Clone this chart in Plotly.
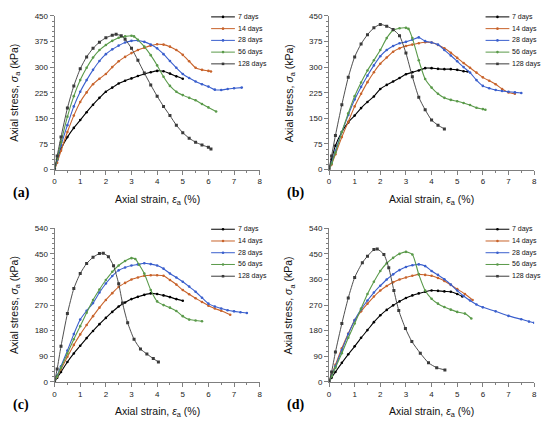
import plotly.graph_objects as go

# the page body has an 8 px margin, so the figure is drawn 8 px in from the corner
OFF = 8
W, H = 550 - OFF, 428 - OFF

SERIES = ["7 days", "14 days", "28 days", "56 days", "128 days"]
COLORS = ["#000000", "#C8632B", "#3A5FCD", "#5A9A4A", "#3A3A3A"]
SYMBOLS = ["circle", "circle", "circle", "circle", "square"]

# ---- panel (a) ----
A7_X = [0, 0.1, 0.25, 0.5, 0.75, 1, 1.25, 1.5, 1.75, 2, 2.25, 2.5, 2.75, 3, 3.25, 3.5, 3.75, 4, 4.25, 4.5, 4.75, 5]
A7_Y = [0, 30, 60, 95, 122, 145, 168, 190, 210, 228, 240, 252, 260, 267, 274, 280, 285, 289, 288, 281, 273, 266]
A14_X = [0, 0.1, 0.25, 0.5, 0.75, 1, 1.25, 1.5, 1.75, 2, 2.25, 2.5, 2.75, 3, 3.25, 3.5, 3.75, 4, 4.25, 4.5, 4.75, 5, 5.25, 5.5, 5.75, 6, 6.1]
A14_Y = [0, 20, 55, 110, 158, 198, 226, 250, 266, 280, 300, 317, 330, 341, 350, 357, 363, 367, 366, 360, 350, 336, 317, 298, 292, 289, 287]
A28_X = [0, 0.1, 0.25, 0.5, 0.75, 1, 1.25, 1.5, 1.75, 2, 2.25, 2.5, 2.75, 3, 3.25, 3.5, 3.75, 4, 4.25, 4.5, 4.75, 5, 5.25, 5.5, 5.75, 6, 6.25, 6.5, 6.75, 7, 7.3]
A28_Y = [0, 28, 70, 130, 185, 228, 262, 292, 318, 338, 352, 363, 372, 377, 378, 374, 366, 355, 338, 318, 298, 280, 268, 258, 250, 243, 234, 233, 236, 238, 240]
A56_X = [0, 0.1, 0.25, 0.5, 0.75, 1, 1.25, 1.5, 1.75, 2, 2.25, 2.5, 2.75, 3, 3.1, 3.25, 3.5, 3.75, 4, 4.25, 4.5, 4.75, 5, 5.25, 5.5, 5.75, 6, 6.3]
A56_Y = [0, 32, 80, 155, 215, 262, 298, 328, 350, 365, 377, 386, 390, 392, 390, 380, 360, 335, 305, 272, 245, 228, 218, 210, 203, 192, 182, 170]
A128_X = [0, 0.1, 0.25, 0.5, 0.75, 1, 1.25, 1.5, 1.75, 2, 2.25, 2.4, 2.6, 2.75, 3, 3.25, 3.5, 3.75, 4, 4.25, 4.5, 4.75, 5, 5.25, 5.5, 5.75, 6, 6.1]
A128_Y = [0, 40, 95, 180, 245, 295, 330, 355, 373, 386, 393, 396, 392, 382, 355, 320, 283, 248, 215, 185, 158, 130, 108, 92, 80, 72, 65, 60]

# ---- panel (b) ----
B7_X = [0, 0.1, 0.25, 0.5, 0.75, 1, 1.25, 1.5, 1.75, 2, 2.25, 2.5, 2.75, 3, 3.25, 3.5, 3.75, 4, 4.25, 4.5, 4.75, 5, 5.25, 5.4]
B7_Y = [0, 30, 70, 110, 138, 158, 180, 198, 214, 236, 248, 258, 268, 279, 285, 290, 297, 297, 295, 294, 294, 292, 288, 287]
B14_X = [0, 0.1, 0.25, 0.5, 0.75, 1, 1.25, 1.5, 1.75, 2, 2.25, 2.5, 2.75, 3, 3.25, 3.5, 3.75, 4, 4.25, 4.5, 4.75, 5, 5.25, 5.5, 5.75, 6, 6.25, 6.5, 6.75, 7, 7.25]
B14_Y = [0, 15, 45, 95, 140, 185, 222, 256, 285, 310, 328, 345, 355, 362, 366, 370, 373, 372, 365, 355, 342, 327, 312, 298, 284, 270, 260, 250, 236, 226, 222]
B28_X = [0, 0.1, 0.25, 0.5, 0.75, 1, 1.25, 1.5, 1.75, 2, 2.25, 2.5, 2.75, 3, 3.25, 3.5, 3.75, 4, 4.25, 4.5, 4.75, 5, 5.25, 5.5, 5.75, 6, 6.25, 6.5, 6.75, 7, 7.25, 7.5]
B28_Y = [0, 20, 55, 110, 160, 205, 242, 275, 305, 332, 350, 362, 370, 374, 380, 387, 376, 372, 366, 350, 334, 317, 300, 284, 262, 245, 238, 233, 230, 228, 226, 224]
B56_X = [0, 0.1, 0.25, 0.5, 0.75, 1, 1.25, 1.5, 1.75, 2, 2.25, 2.5, 2.75, 3, 3.1, 3.25, 3.5, 3.75, 4, 4.25, 4.5, 4.75, 5, 5.25, 5.5, 5.75, 6, 6.1]
B56_Y = [0, 18, 50, 110, 165, 215, 255, 290, 320, 350, 385, 408, 414, 415, 412, 385, 320, 265, 240, 222, 210, 204, 200, 195, 189, 181, 177, 175]
B128_X = [0, 0.1, 0.25, 0.5, 0.75, 1, 1.25, 1.5, 1.75, 2, 2.25, 2.5, 2.75, 3, 3.25, 3.5, 3.75, 4, 4.25, 4.5]
B128_Y = [0, 40, 100, 190, 270, 330, 368, 395, 415, 425, 420, 410, 392, 341, 272, 212, 175, 145, 130, 119]

# ---- panel (c) ----
C7_X = [0, 0.1, 0.25, 0.5, 0.75, 1, 1.25, 1.5, 1.75, 2, 2.25, 2.5, 2.75, 3, 3.25, 3.5, 3.75, 4, 4.25, 4.5, 4.75, 5]
C7_Y = [0, 15, 35, 70, 100, 127, 154, 179, 203, 225, 246, 265, 279, 291, 299, 306, 311, 309, 304, 298, 291, 285]
C14_X = [0, 0.1, 0.25, 0.5, 0.75, 1, 1.25, 1.5, 1.75, 2, 2.25, 2.5, 2.75, 3, 3.25, 3.5, 3.75, 4, 4.25, 4.5, 4.75, 5, 5.25, 5.5, 5.75, 6, 6.25, 6.5, 6.85]
C14_Y = [0, 18, 45, 88, 130, 167, 200, 231, 261, 288, 312, 334, 348, 360, 367, 373, 375, 375, 373, 358, 342, 323, 308, 294, 281, 268, 258, 250, 236]
C28_X = [0, 0.1, 0.25, 0.5, 0.75, 1, 1.25, 1.5, 1.75, 2, 2.25, 2.5, 2.75, 3, 3.25, 3.5, 3.75, 4, 4.25, 4.5, 4.75, 5, 5.25, 5.5, 5.75, 6, 6.25, 6.5, 6.75, 7, 7.25, 7.5]
C28_Y = [0, 22, 55, 110, 168, 219, 250, 277, 314, 346, 372, 392, 402, 409, 413, 417, 414, 409, 398, 381, 367, 352, 335, 317, 296, 275, 265, 258, 252, 248, 245, 242]
C56_X = [0, 0.1, 0.25, 0.5, 0.75, 1, 1.25, 1.5, 1.75, 2, 2.25, 2.5, 2.75, 3, 3.15, 3.3, 3.5, 3.75, 4, 4.25, 4.5, 4.75, 5, 5.25, 5.5, 5.75]
C56_Y = [0, 20, 50, 100, 150, 196, 243, 288, 325, 358, 387, 409, 425, 435, 432, 412, 381, 323, 283, 270, 261, 249, 231, 219, 216, 213]
C128_X = [0, 0.1, 0.25, 0.5, 0.75, 1, 1.25, 1.5, 1.75, 1.9, 2.1, 2.3, 2.5, 2.65, 2.85, 3.1, 3.35, 3.6, 3.85, 4.05]
C128_Y = [0, 45, 125, 240, 328, 381, 416, 438, 451, 452, 440, 408, 345, 277, 208, 150, 116, 98, 82, 70]

# ---- panel (d) ----
D7_X = [0, 0.1, 0.25, 0.5, 0.75, 1, 1.25, 1.5, 1.75, 2, 2.25, 2.5, 2.75, 3, 3.25, 3.5, 3.75, 4, 4.25, 4.5, 4.75, 5, 5.2]
D7_Y = [0, 15, 35, 67, 97, 125, 155, 182, 210, 234, 253, 269, 283, 295, 304, 311, 317, 321, 320, 318, 317, 309, 300]
D14_X = [0, 0.1, 0.25, 0.5, 0.75, 1, 1.25, 1.5, 1.75, 2, 2.25, 2.5, 2.75, 3, 3.25, 3.5, 3.75, 4, 4.25, 4.5, 4.75, 5, 5.3, 5.6]
D14_Y = [0, 25, 60, 118, 170, 217, 248, 275, 300, 321, 337, 350, 360, 367, 373, 378, 376, 373, 365, 355, 341, 326, 309, 288]
D28_X = [0, 0.1, 0.25, 0.5, 0.75, 1, 1.25, 1.5, 1.75, 2, 2.25, 2.5, 2.75, 3, 3.25, 3.5, 3.75, 4, 4.25, 4.5, 4.75, 5, 5.25, 5.5, 5.75, 6, 6.5, 7, 7.5, 7.8, 8]
D28_Y = [0, 22, 55, 112, 168, 217, 255, 286, 314, 338, 360, 378, 393, 404, 410, 413, 407, 390, 376, 361, 342, 321, 302, 286, 272, 262, 248, 232, 220, 212, 208]
D56_X = [0, 0.1, 0.25, 0.5, 0.75, 1, 1.25, 1.5, 1.75, 2, 2.25, 2.5, 2.75, 3, 3.25, 3.5, 3.75, 4, 4.25, 4.5, 4.75, 5, 5.3, 5.55]
D56_Y = [0, 20, 50, 101, 155, 205, 258, 309, 352, 390, 417, 436, 450, 457, 448, 378, 321, 292, 275, 263, 254, 246, 240, 223]
D128_X = [0, 0.1, 0.25, 0.5, 0.75, 1, 1.3, 1.5, 1.75, 1.88, 2.14, 2.33, 2.53, 2.72, 2.98, 3.23, 3.56, 3.88, 4.2, 4.52]
D128_Y = [0, 35, 105, 205, 295, 367, 419, 442, 465, 467, 448, 401, 321, 251, 188, 142, 101, 67, 50, 42]

PANELS = [
    [(A7_X, A7_Y), (A14_X, A14_Y), (A28_X, A28_Y), (A56_X, A56_Y), (A128_X, A128_Y)],
    [(B7_X, B7_Y), (B14_X, B14_Y), (B28_X, B28_Y), (B56_X, B56_Y), (B128_X, B128_Y)],
    [(C7_X, C7_Y), (C14_X, C14_Y), (C28_X, C28_Y), (C56_X, C56_Y), (C128_X, C128_Y)],
    [(D7_X, D7_Y), (D14_X, D14_Y), (D28_X, D28_Y), (D56_X, D56_Y), (D128_X, D128_Y)],
]
PANEL_LABELS = ["(a)", "(b)", "(c)", "(d)"]
Y_MAX = [450, 450, 540, 540]
Y_DTICK = [75, 75, 90, 90]

# pixel layout of each panel in the window: (left, right, top, bottom)
BOXES = [(53, 260, 12, 169), (330, 537, 12, 169), (53, 260, 229, 386), (330, 537, 229, 386)]
FONT = "Liberation Sans, Arial, sans-serif"


def px(x):
    return (x - OFF) / W


def py(y):
    return 1 - (y - OFF) / H


fig = go.Figure()
shapes = []
annotations = []

for i, curves in enumerate(PANELS):
    n = "" if i == 0 else str(i + 1)
    left, right, top, bottom = BOXES[i]
    for k, (xs, ys) in enumerate(curves):
        fig.add_trace(go.Scatter(
            x=xs, y=ys, xaxis="x" + n, yaxis="y" + n,
            mode="lines+markers", name=SERIES[k], showlegend=False,
            line={"color": COLORS[k], "width": 1.1 if k < 4 else 0.9, "shape": "spline", "smoothing": 0.6},
            marker={"symbol": SYMBOLS[k], "size": 2.6 if k < 4 else 3, "color": COLORS[k]},
        ))
    axis = {
        "showline": True, "linecolor": "#7f7f7f", "linewidth": 1,
        "ticks": "outside", "ticklen": 4, "tickcolor": "#7f7f7f",
        "showgrid": False, "zeroline": False,
        "tickfont": {"family": FONT, "size": 8, "color": "#222"},
    }
    fig.layout["xaxis" + n] = dict(
        axis, domain=[px(left), px(right)], range=[0, 8], dtick=1, anchor="y" + n,
        minor={"dtick": 0.5, "ticks": "outside", "ticklen": 2, "tickcolor": "#7f7f7f"},
    )
    fig.layout["yaxis" + n] = dict(
        axis, domain=[py(bottom), py(top)], range=[0, Y_MAX[i]], dtick=Y_DTICK[i], anchor="x" + n,
        minor={"dtick": Y_DTICK[i] / 5, "ticks": "outside", "ticklen": 2, "tickcolor": "#7f7f7f"},
    )
    cx = (left + right) / 2
    annotations.append(dict(
        text="Axial strain, <i>ε</i><sub>a</sub> (%)", x=px(cx), y=py(bottom + 31),
        xanchor="center", yanchor="middle",
        xref="paper", yref="paper", showarrow=False, font={"family": FONT, "size": 10.5, "color": "#111"},
    ))
    annotations.append(dict(
        text="Axial stress, <i>σ</i><sub>a</sub> (kPa)", x=px(left - 40), y=py((top + bottom) / 2),
        xanchor="center", yanchor="middle",
        xref="paper", yref="paper", showarrow=False, textangle=-90,
        font={"family": FONT, "size": 10.5, "color": "#111"},
    ))
    annotations.append(dict(
        text="<b>" + PANEL_LABELS[i] + "</b>", x=px(left - 44), y=py(bottom + 24),
        xanchor="left", yanchor="middle",
        xref="paper", yref="paper", showarrow=False,
        font={"family": "Liberation Serif, DejaVu Serif, serif", "size": 14, "color": "#000"},
    ))
    # legend key
    lx0 = right - 49
    for k in range(5):
        ry = top + 1 + 12 * k
        shapes.append(dict(type="line", xref="paper", yref="paper",
                           x0=px(lx0), x1=px(lx0 + 24), y0=py(ry), y1=py(ry),
                           line={"color": COLORS[k], "width": 1}))
        r = 1.3
        shapes.append(dict(type="rect" if k == 4 else "circle", xref="paper", yref="paper",
                           x0=px(lx0 + 12 - r), x1=px(lx0 + 12 + r), y0=py(ry - r), y1=py(ry + r),
                           fillcolor=COLORS[k], line={"width": 0}))
        annotations.append(dict(
            text=SERIES[k], x=px(lx0 + 25), y=py(ry), xanchor="left", yanchor="middle",
            xref="paper", yref="paper",
            showarrow=False, font={"family": FONT, "size": 7, "color": "#111"},
        ))

fig.update_layout(
    width=W, height=H,
    margin={"l": 0, "r": 0, "t": 0, "b": 0},
    paper_bgcolor="white", plot_bgcolor="white",
    showlegend=False,
    shapes=shapes, annotations=annotations,
)

fig.write_html("out.html")
